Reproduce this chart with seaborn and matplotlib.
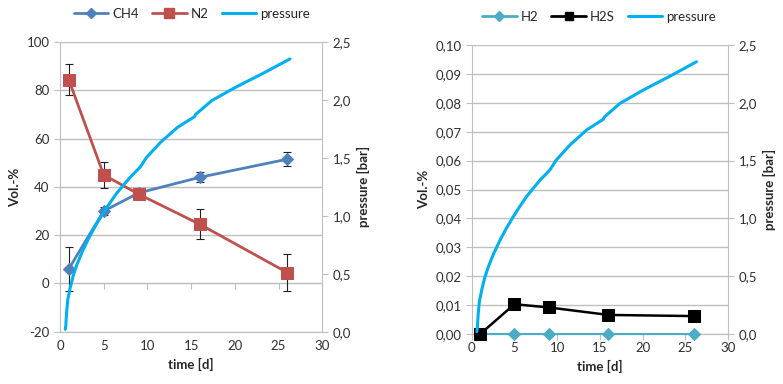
import numpy as np
import pandas as pd
import matplotlib
matplotlib.use('Agg')
import matplotlib.pyplot as plt
import seaborn as sns
from matplotlib.lines import Line2D

sns.set_style('white')
plt.rcParams['font.family'] = ['Lato', 'DejaVu Sans']

# sampling days
days = [1, 5, 9, 16, 26]

# left chart: CH4 / N2 in Vol.-%
ch4 = [6.0, 30.0, 37.5, 44.0, 51.5]
ch4_err = [9.0, 1.5, 1.5, 2.0, 3.0]
n2 = [84.5, 45.0, 37.0, 24.5, 4.5]
n2_err = [6.3, 5.3, 2.0, 6.2, 7.8]

# right chart: H2 / H2S in Vol.-%
h2 = [0.0, 0.0, 0.0, 0.0, 0.0]
h2s = [0.0, 0.0103, 0.0092, 0.0066, 0.0062]

# pressure curve
p_time = [0.6, 0.66, 0.77, 0.9, 1.17, 1.5, 1.94, 2.6, 3.31, 4.1, 4.87, 5.6, 6.43,
          7.2, 7.99, 9.16, 9.9, 11.5, 13.45, 15.4, 15.5, 17.35, 20.07, 23.2, 26.3]
p_bar = [0.02, 0.05, 0.18, 0.28, 0.38, 0.48, 0.58, 0.70, 0.81, 0.92, 1.015, 1.10, 1.19,
         1.26, 1.33, 1.42, 1.505, 1.635, 1.765, 1.857, 1.875, 1.995, 2.11, 2.23, 2.355]

c_ch4 = '#4F81BD'
c_n2 = '#C0504D'
c_p = '#00B0F0'
c_h2 = '#4BACC6'
c_h2s = '#000000'
grid_c = '#BFBFBF'
fs = 9.5

press = pd.DataFrame({'t': p_time, 'p': p_bar})
left = pd.DataFrame({'t': days, 'CH4': ch4, 'N2': n2})
right = pd.DataFrame({'t': days, 'H2': h2, 'H2S': h2s})

fig = plt.figure(figsize=(7.83, 3.84), dpi=100)
ax1 = fig.add_axes([0.0766, 0.1362, 0.335, 0.754])
ax2 = fig.add_axes([0.6024, 0.1302, 0.3274, 0.7526])


def style_axes(ax, yticks, ylabels, xcross):
    ax.set_xlim(0, 30)
    ax.set_xticks([0, 5, 10, 15, 20, 25, 30])
    ax.set_yticks(yticks)
    ax.set_yticklabels(ylabels)
    ax.set_ylim(yticks[0], yticks[-1])
    ax.grid(axis='y', color=grid_c, lw=1)
    ax.set_axisbelow(True)
    for s in ['top', 'right']:
        ax.spines[s].set_visible(False)
    for s in ['left', 'bottom']:
        ax.spines[s].set_color(grid_c)
    ax.tick_params(axis='x', length=0, labelsize=fs, labelcolor='#303030', pad=6)
    ax.tick_params(axis='y', length=4, color=grid_c, labelsize=fs, labelcolor='#303030', left=True)
    # x axis crossing line with ticks
    sec = ax.secondary_xaxis(xcross)
    sec.set_xticks([0, 5, 10, 15, 20, 25, 30])
    sec.tick_params(axis='x', length=4, color=grid_c, labelbottom=False, direction='out')
    sec.spines['bottom'].set_color(grid_c)


def style_twin(tw):
    tw.set_ylim(0, 2.5)
    tw.set_yticks([0, 0.5, 1.0, 1.5, 2.0, 2.5])
    tw.set_yticklabels(['0,0', '0,5', '1,0', '1,5', '2,0', '2,5'])
    tw.tick_params(axis='y', length=4, color=grid_c, labelsize=fs, labelcolor='#303030', right=True)
    for s in ['top', 'left', 'bottom']:
        tw.spines[s].set_visible(False)
    tw.spines['right'].set_color(grid_c)
    tw.set_ylabel('pressure [bar]', fontsize=fs, fontweight='bold')


# ---- left chart
style_axes(ax1, [-20, 0, 20, 40, 60, 80, 100],
           ['-20', '0', '20', '40', '60', '80', '100'], 20 / 120)
ax1.errorbar(days, ch4, yerr=ch4_err, fmt='none', ecolor='#202020', elinewidth=0.8, capsize=3, capthick=0.8, zorder=3)
ax1.errorbar(days, n2, yerr=n2_err, fmt='none', ecolor='#202020', elinewidth=0.8, capsize=3, capthick=0.8, zorder=3)
sns.lineplot(data=left, x='t', y='CH4', ax=ax1, color=c_ch4, lw=2, marker='D', markersize=6,
             markeredgecolor=c_ch4, zorder=4)
sns.lineplot(data=left, x='t', y='N2', ax=ax1, color=c_n2, lw=2, marker='s', markersize=8,
             markeredgecolor=c_n2, zorder=4)
ax1.set_xlabel('time [d]', fontsize=fs, fontweight='bold', labelpad=4)
ax1.set_ylabel('Vol.-%', fontsize=fs, fontweight='bold')
tw1 = ax1.twinx()
sns.lineplot(data=press, x='t', y='p', ax=tw1, color=c_p, lw=2.2, sort=False)
style_twin(tw1)

h1 = [Line2D([], [], color=c_ch4, lw=2, marker='D', markersize=5),
      Line2D([], [], color=c_n2, lw=2, marker='s', markersize=7),
      Line2D([], [], color=c_p, lw=2.2)]
fig.legend(h1, ['CH4', 'N2', 'pressure'], loc='center', bbox_to_anchor=(0.245, 0.964), ncol=3,
           frameon=False, fontsize=fs, handlelength=2.6, columnspacing=1.0, handletextpad=0.3)

# ---- right chart
style_axes(ax2, [0, 0.01, 0.02, 0.03, 0.04, 0.05, 0.06, 0.07, 0.08, 0.09, 0.10],
           ['0,00', '0,01', '0,02', '0,03', '0,04', '0,05', '0,06', '0,07', '0,08', '0,09', '0,10'], 0.0)
sns.lineplot(data=right, x='t', y='H2', ax=ax2, color=c_h2, lw=1.5, marker='D', markersize=6,
             markeredgecolor=c_h2, zorder=4, clip_on=False)
sns.lineplot(data=right, x='t', y='H2S', ax=ax2, color=c_h2s, lw=1.8, marker='s', markersize=8,
             markeredgecolor=c_h2s, zorder=5, clip_on=False)
ax2.set_xlabel('time [d]', fontsize=fs, fontweight='bold', labelpad=4)
ax2.set_ylabel('Vol.-%', fontsize=fs, fontweight='bold')
tw2 = ax2.twinx()
sns.lineplot(data=press, x='t', y='p', ax=tw2, color=c_p, lw=2.2, sort=False)
style_twin(tw2)

h2h = [Line2D([], [], color=c_h2, lw=2, marker='D', markersize=5),
       Line2D([], [], color=c_h2s, lw=2, marker='s', markersize=6),
       Line2D([], [], color=c_p, lw=2.2)]
fig.legend(h2h, ['H2', 'H2S', 'pressure'], loc='center', bbox_to_anchor=(0.765, 0.957), ncol=3,
           frameon=False, fontsize=fs, handlelength=2.6, columnspacing=1.0, handletextpad=0.3)

fig.savefig('out.png', dpi=100)
